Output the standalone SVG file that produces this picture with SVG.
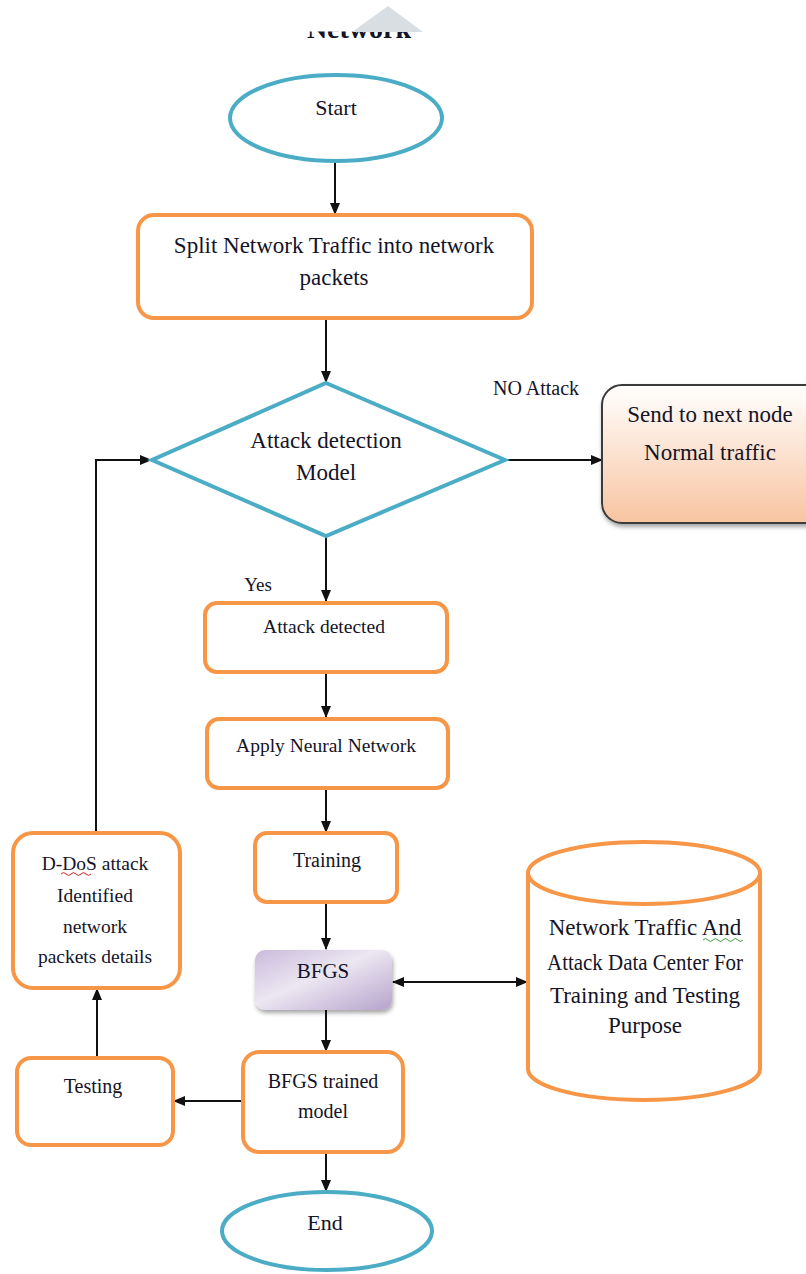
<svg xmlns="http://www.w3.org/2000/svg" width="806" height="1274" viewBox="0 0 806 1274">
<style>
text{font-family:"Liberation Serif","Times New Roman",serif;fill:#141428;text-anchor:middle}
.big{font-size:23px}
.sm{font-size:20px}
.lbl{font-size:19.5px}
.term{fill:#fff;stroke:#4BACC6;stroke-width:4}
.box{fill:#fff;stroke:#F79646;stroke-width:4}
.conn{fill:none;stroke:#111;stroke-width:2}
</style>
<defs>
<marker id="arr" markerWidth="12" markerHeight="10" refX="11" refY="5" orient="auto" markerUnits="userSpaceOnUse">
<path d="M0,0 L12,5 L0,10 Z" fill="#111"/>
</marker>
<marker id="arrS" markerWidth="12" markerHeight="10" refX="1" refY="5" orient="auto" markerUnits="userSpaceOnUse">
<path d="M12,0 L0,5 L12,10 Z" fill="#111"/>
</marker>
<linearGradient id="peach" x1="0" y1="0" x2="0" y2="1">
<stop offset="0" stop-color="#FFFFFF"/>
<stop offset="1" stop-color="#F8C4A0"/>
</linearGradient>
<linearGradient id="lav" x1="0" y1="0" x2="1" y2="1">
<stop offset="0" stop-color="#C9BBDB"/>
<stop offset="0.45" stop-color="#ECE7F2"/>
<stop offset="1" stop-color="#B6A3CC"/>
</linearGradient>
<filter id="sh" x="-10%" y="-10%" width="130%" height="140%">
<feDropShadow dx="1" dy="3" stdDeviation="2" flood-color="#000" flood-opacity="0.35"/>
</filter>
<clipPath id="topclip"><rect x="0" y="31.5" width="806" height="20"/></clipPath>
</defs>

<g id="header">
<text x="359" y="38" clip-path="url(#topclip)" style="font-size:28px;font-weight:bold">Network</text>
<polygon points="352,32 388,6 423,32" fill="#D9DEE2"/>
</g>

<g id="connectors">
<line class="conn" x1="335" y1="162" x2="335" y2="214" marker-end="url(#arr)"/>
<line class="conn" x1="326" y1="318" x2="326" y2="382" marker-end="url(#arr)"/>
<line class="conn" x1="505" y1="460" x2="602" y2="460" marker-end="url(#arr)"/>
<line class="conn" x1="326" y1="536" x2="326" y2="601" marker-end="url(#arr)"/>
<line class="conn" x1="326" y1="672" x2="326" y2="717" marker-end="url(#arr)"/>
<line class="conn" x1="326" y1="788" x2="326" y2="832" marker-end="url(#arr)"/>
<line class="conn" x1="326" y1="902" x2="326" y2="949" marker-end="url(#arr)"/>
<line class="conn" x1="393" y1="982" x2="527" y2="982" marker-start="url(#arrS)" marker-end="url(#arr)"/>
<line class="conn" x1="326" y1="1010" x2="326" y2="1051" marker-end="url(#arr)"/>
<line class="conn" x1="243" y1="1101" x2="174" y2="1101" marker-end="url(#arr)"/>
<line class="conn" x1="326" y1="1152" x2="326" y2="1191" marker-end="url(#arr)"/>
<line class="conn" x1="97" y1="1058" x2="97" y2="989" marker-end="url(#arr)"/>
<polyline class="conn" points="96,833 96,460 151,460" marker-end="url(#arr)"/>
<text class="lbl" x="536" y="395" style="font-size:20px">NO Attack</text>
<text class="lbl" x="258" y="591" style="font-size:19px">Yes</text>
</g>

<g id="start">
<ellipse class="term" cx="336" cy="118" rx="106" ry="43"/>
<text class="big" x="336" y="115" style="font-size:22px">Start</text>
</g>

<g id="split">
<rect class="box" x="138" y="215" width="394" height="103" rx="16"/>
<text class="big" x="334" y="253">Split Network Traffic into network</text>
<text class="big" x="334" y="285">packets</text>
</g>

<g id="decision">
<polygon points="326,383 505,460 326,536 152,460" fill="#fff" stroke="#4BACC6" stroke-width="4"/>
<text class="big" x="326" y="448">Attack detection</text>
<text class="big" x="326" y="480">Model</text>
</g>

<g id="send">
<rect x="602" y="385" width="230" height="138" rx="20" fill="url(#peach)" stroke="#3A3A3A" stroke-width="2" filter="url(#sh)"/>
<text class="big" x="710" y="422">Send to next node</text>
<text class="big" x="710" y="460">Normal traffic</text>
</g>

<g id="attack-detected">
<rect class="box" x="205" y="603" width="242" height="69" rx="12"/>
<text class="lbl" x="324" y="633">Attack detected</text>
</g>

<g id="apply-nn">
<rect class="box" x="207" y="719" width="241" height="69" rx="12"/>
<text class="lbl" x="326" y="752">Apply Neural Network</text>
</g>

<g id="training">
<rect class="box" x="255" y="833" width="142" height="69" rx="12"/>
<text class="sm" x="327" y="867">Training</text>
</g>

<g id="bfgs">
<rect x="255" y="950" width="137" height="60" rx="10" fill="url(#lav)" filter="url(#sh)"/>
<text class="sm" x="323" y="978" style="font-size:21px">BFGS</text>
</g>

<g id="datacenter">
<path class="box" d="M528,873 L528,1069 A116,31 0 0 0 760,1069 L760,873"/>
<ellipse class="box" cx="644" cy="873" rx="116" ry="31"/>
<text class="big" x="645" y="935">Network Traffic And</text>
<text class="big" x="645" y="970" textLength="196" lengthAdjust="spacingAndGlyphs">Attack Data Center For</text>
<text class="big" x="645" y="1003">Training and Testing</text>
<text class="big" x="645" y="1033">Purpose</text>
<path d="M703,940 q2.5,-3 5,0 t5,0 t5,0 t5,0 t5,0 t5,0 t5,0 t5,0" fill="none" stroke="#3CA03C" stroke-width="1"/>
</g>

<g id="bfgs-trained">
<rect class="box" x="243" y="1052" width="160" height="100" rx="16"/>
<text class="sm" x="323" y="1088">BFGS trained</text>
<text class="sm" x="323" y="1118">model</text>
</g>

<g id="end">
<ellipse class="term" cx="327" cy="1231" rx="105" ry="39"/>
<text class="big" x="325" y="1230" style="font-size:22px">End</text>
</g>

<g id="testing">
<rect class="box" x="17" y="1058" width="156" height="87" rx="14"/>
<text class="sm" x="93" y="1093">Testing</text>
</g>

<g id="ddos">
<rect class="box" x="13" y="833" width="167" height="155" rx="20"/>
<text class="lbl" x="95" y="870">D-DoS attack</text>
<text class="lbl" x="95" y="902">Identified</text>
<text class="lbl" x="95" y="933">network</text>
<text class="lbl" x="95" y="963">packets details</text>
<path d="M61,874 q2.5,-3 5,0 t5,0 t5,0 t5,0 t5,0 t5,0" fill="none" stroke="#D02020" stroke-width="1"/>
</g>
</svg>
